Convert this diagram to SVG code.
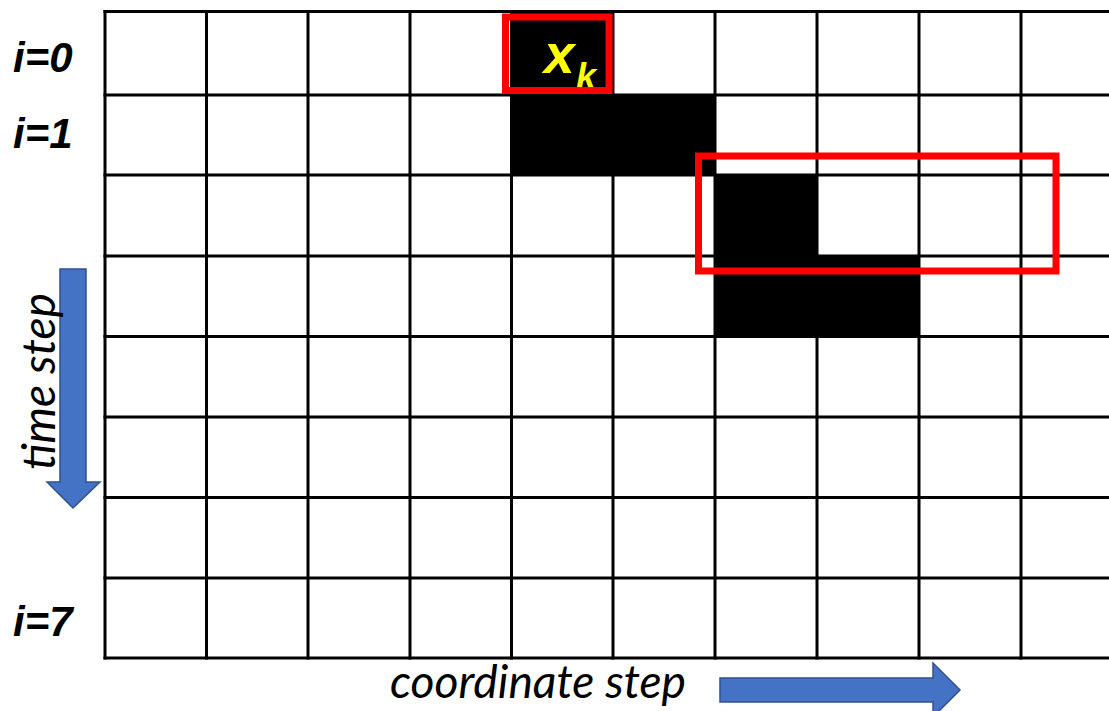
<svg xmlns="http://www.w3.org/2000/svg" width="1109" height="711" viewBox="0 0 1109 711">
  <style>
    .cell { fill: #000000; }
    .grid line { stroke: #000000; stroke-width: 3; }
    .hl { fill: none; stroke: #FF0000; stroke-width: 7; }
    .lbl { font-family: "Liberation Sans", Arial, sans-serif; font-weight: bold; font-style: italic; font-size: 42px; fill: #000000; }
    .axis { font-family: Lato, "Open Sans", sans-serif; font-style: italic; font-size: 46px; fill: #000000; }
    .xk { font-family: "Liberation Sans", Arial, sans-serif; font-weight: bold; font-style: italic; fill: #FFFF00; }
    .arrow { fill: #4472C4; stroke: #2F528F; stroke-width: 1.5; }
  </style>

  <rect width="1109" height="711" fill="#FFFFFF"/>

  <!-- filled cells -->
  <g id="cells">
    <rect class="cell" x="511.5" y="11.5" width="101.5" height="83.5"/>
    <rect class="cell" x="511.5" y="95" width="203.5" height="80"/>
    <rect class="cell" x="715" y="175" width="102" height="81"/>
    <rect class="cell" x="715" y="256" width="204" height="80.5"/>
  </g>

  <!-- lattice -->
  <g id="grid" class="grid">
    <line x1="103.5" y1="11.5" x2="1109" y2="11.5"/>
    <line x1="103.5" y1="95" x2="1109" y2="95"/>
    <line x1="103.5" y1="175" x2="1109" y2="175"/>
    <line x1="103.5" y1="256" x2="1109" y2="256"/>
    <line x1="103.5" y1="336.5" x2="1109" y2="336.5"/>
    <line x1="103.5" y1="417" x2="1109" y2="417"/>
    <line x1="103.5" y1="497.5" x2="1109" y2="497.5"/>
    <line x1="103.5" y1="578" x2="1109" y2="578"/>
    <line x1="103.5" y1="658" x2="1109" y2="658"/>
    <line x1="105" y1="10" x2="105" y2="659.5"/>
    <line x1="206.5" y1="10" x2="206.5" y2="659.5"/>
    <line x1="308" y1="10" x2="308" y2="659.5"/>
    <line x1="410" y1="10" x2="410" y2="659.5"/>
    <line x1="511.5" y1="10" x2="511.5" y2="659.5"/>
    <line x1="613" y1="10" x2="613" y2="659.5"/>
    <line x1="715" y1="10" x2="715" y2="659.5"/>
    <line x1="817" y1="10" x2="817" y2="659.5"/>
    <line x1="919" y1="10" x2="919" y2="659.5"/>
    <line x1="1021" y1="10" x2="1021" y2="659.5"/>
  </g>

  <!-- start cell label -->
  <g id="xk-label">
    <text class="xk" x="544" y="73" font-size="55">x</text>
    <text class="xk" x="576" y="89" font-size="36">k</text>
  </g>

  <!-- highlight frames -->
  <g id="highlights">
    <rect id="hl-start" class="hl" x="505.5" y="17" width="103.5" height="73.5"/>
    <rect id="hl-window" class="hl" x="698.5" y="156" width="357.5" height="115"/>
  </g>

  <!-- row labels -->
  <g id="row-labels">
    <text id="lbl-i0" class="lbl" x="13" y="72">i=0</text>
    <text id="lbl-i1" class="lbl" x="13" y="148">i=1</text>
    <text id="lbl-i7" class="lbl" x="13" y="636">i=7</text>
  </g>

  <!-- axis arrows -->
  <g id="connectors">
    <polygon id="time-arrow" class="arrow" points="60,269 86,269 86,482 100,482 73,508 47,482 60,482"/>
    <polygon id="coord-arrow" class="arrow" points="720,678 933,678 933,663 960,690 933,717 933,702 720,702"/>
  </g>

  <!-- axis captions -->
  <g id="axis-labels">
    <text id="time-label" class="axis" transform="translate(55,470) rotate(-90)" textLength="177" lengthAdjust="spacingAndGlyphs">time step</text>
    <text id="coord-label" class="axis" x="390" y="698" textLength="296" lengthAdjust="spacingAndGlyphs">coordinate step</text>
  </g>
</svg>
